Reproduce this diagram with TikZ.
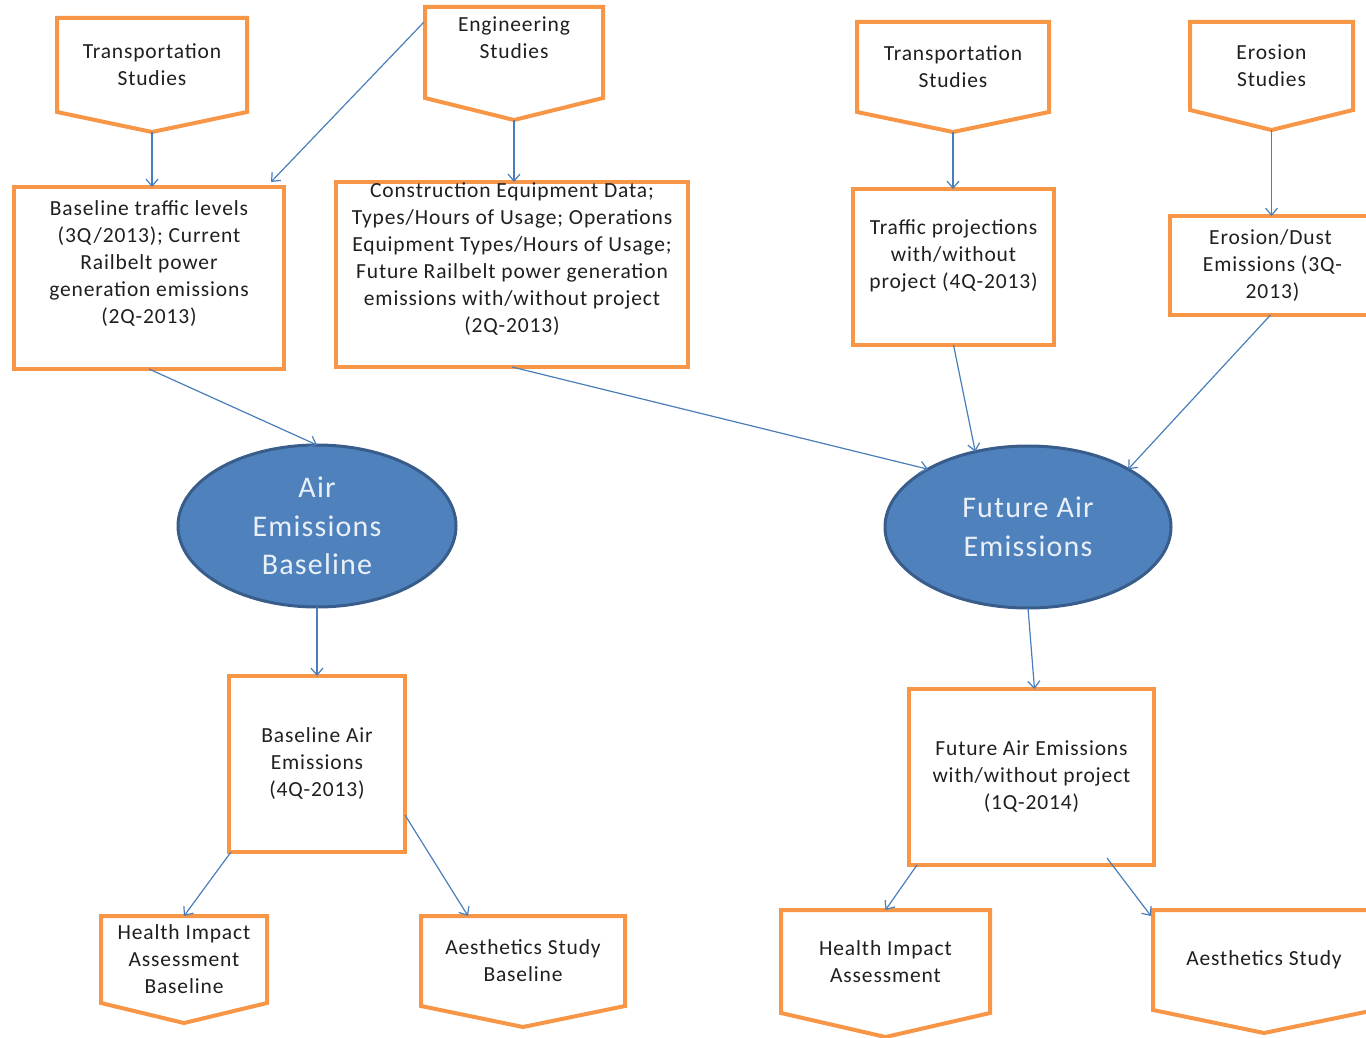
\documentclass[tikz,border=0pt]{standalone}
\usepackage{fontspec}
\setmainfont[LetterSpace=4]{Carlito}
\usetikzlibrary{shapes.geometric,arrows.meta,calc}
\definecolor{boxorange}{HTML}{F79646}
\definecolor{ellfill}{HTML}{4F81BD}
\definecolor{elledge}{HTML}{385D8A}
\definecolor{arrblue}{HTML}{4A7EBB}
\definecolor{elltext}{HTML}{EAF0F8}
\newcommand\lowpad[1]{\rule[-#1]{0pt}{#1}}
\newcommand\pentpath[2]{\draw[pentline] (#1.north west) -- (#1.north east) -- (#1.south east) -- ($(#1.south)+(0,#2)$) coordinate (#1-tip) -- (#1.south west) -- cycle;}
\begin{document}
\begin{tikzpicture}[x=1pt,y=-1pt,
  txt/.style={align=center, text=black!88, font=\fontsize{21.5}{27}\selectfont},
  rectbox/.style={txt, draw=boxorange, line width=4pt, rectangle, inner sep=0pt, outer sep=0pt},
  pentbox/.style={txt, rectangle, inner sep=0pt, outer sep=0pt},
  pentline/.style={draw=boxorange, line width=4pt, line join=miter},
  ell/.style={ellipse, draw=elledge, line width=3pt, fill=ellfill, text=elltext, align=center,
    font=\fontsize{30}{38.5}\selectfont, inner sep=0pt, outer sep=0pt},
  arr/.style={draw=arrblue, line width=1.2pt, -{Straight Barb[length=7pt,width=12pt]}}]
\useasboundingbox (0,0) rectangle (1366,1038);
\clip (0,0) rectangle (1366,1038);

% top pentagons
\node[pentbox, minimum width=190, minimum height=94] (ts1) at (152,65) {Transportation\\Studies};
\pentpath{ts1}{20}
\node[pentbox, minimum width=178, minimum height=91] (es) at (514,52.5) {Engineering\\Studies\lowpad{30pt}};
\pentpath{es}{22}
\node[pentbox, minimum width=192, minimum height=90] (ts2) at (953,67) {Transportation\\Studies};
\pentpath{ts2}{20}
\node[pentbox, minimum width=163, minimum height=88] (er) at (1271.5,66) {Erosion\\Studies};
\pentpath{er}{20}

% second row boxes
\node[rectbox, minimum width=270, minimum height=182] (bt) at (149,278)
  {Baseline traffic levels\\(3Q/2013); Current\\Railbelt power\\generation emissions\\(2Q-2013)\lowpad{31pt}};
\node[rectbox, minimum width=352, minimum height=185] (ce) at (512,274.5)
  {Construction Equipment Data;\\Types/Hours of Usage; Operations\\Equipment Types/Hours of Usage;\\Future Railbelt power generation\\emissions with/without project\\(2Q-2013)\lowpad{34pt}};
\node[rectbox, minimum width=201, minimum height=156] (tp) at (953.5,267)
  {Traffic projections\\with/without\\project (4Q-2013)\lowpad{26pt}};
\node[rectbox, minimum width=205, minimum height=99] (ed) at (1272.5,265.5)
  {\hspace*{-4pt}Erosion/Dust\\Emissions (3Q-\\2013)};

% ellipses
\node[ell, minimum width=278, minimum height=162] (el1) at (317,526) {Air\\Emissions\\Baseline};
\node[ell, minimum width=286, minimum height=162] (el2) at (1028,527) {Future Air\\Emissions};

% third row boxes
\node[rectbox, minimum width=176, minimum height=176] (bae) at (317,764) {Baseline Air\\Emissions\\(4Q-2013)};
\node[rectbox, minimum width=245, minimum height=176] (fae) at (1031.5,777) {Future Air Emissions\\with/without project\\(1Q-2014)};

% bottom pentagons
\node[pentbox, minimum width=166, minimum height=87] (hb) at (184,959.5) {Health Impact\\Assessment\\Baseline};
\pentpath{hb}{20}
\node[pentbox, minimum width=204, minimum height=90] (asb) at (523,961) {Aesthetics Study\\Baseline};
\pentpath{asb}{21}
\node[pentbox, minimum width=209, minimum height=103] (hr) at (885.5,961.5) {Health Impact\\Assessment};
\pentpath{hr}{24}
\node[pentbox, minimum width=222, minimum height=100] (ar) at (1264,960) {Aesthetics Study};
\pentpath{ar}{23}

% connectors
\draw[arr] (ts1-tip) -- (ts1-tip |- bt.north);
\draw[arr] ($(es.north west)+(-1,15)$) -- ($(bt.north east)+(-13,-5)$);
\draw[arr] (es-tip) -- (es-tip |- ce.north);
\draw[arr] (ts2-tip) -- (ts2-tip |- tp.north);
\draw[arr] (er-tip) -- (er-tip |- ed.north);
\draw[arr] (bt.south) -- (el1.north);
\draw[arr] (ce.south) -- (el2.150);
\draw[arr] (tp.south) -- (el2.125);
\draw[arr] ($(ed.south)+(-2,0)$) -- (el2.30);
\draw[arr] (el1.south) -- (el1.south |- bae.north);
\draw[arr] (el2.south) -- ($(fae.north)+(3,0)$);
\draw[arr] ($(bae.south west)+(2,0)$) -- (hb.north);
\draw[arr] ($(bae.east)+(0,51)$) -- ($(asb.north west)+(47,0)$);
\draw[arr] ($(fae.south west)+(8,0)$) -- (hr.north);
\draw[arr] ($(fae.south west)+(198,-7)$) -- ($(ar.north west)+(-2,6)$);
\end{tikzpicture}
\end{document}
